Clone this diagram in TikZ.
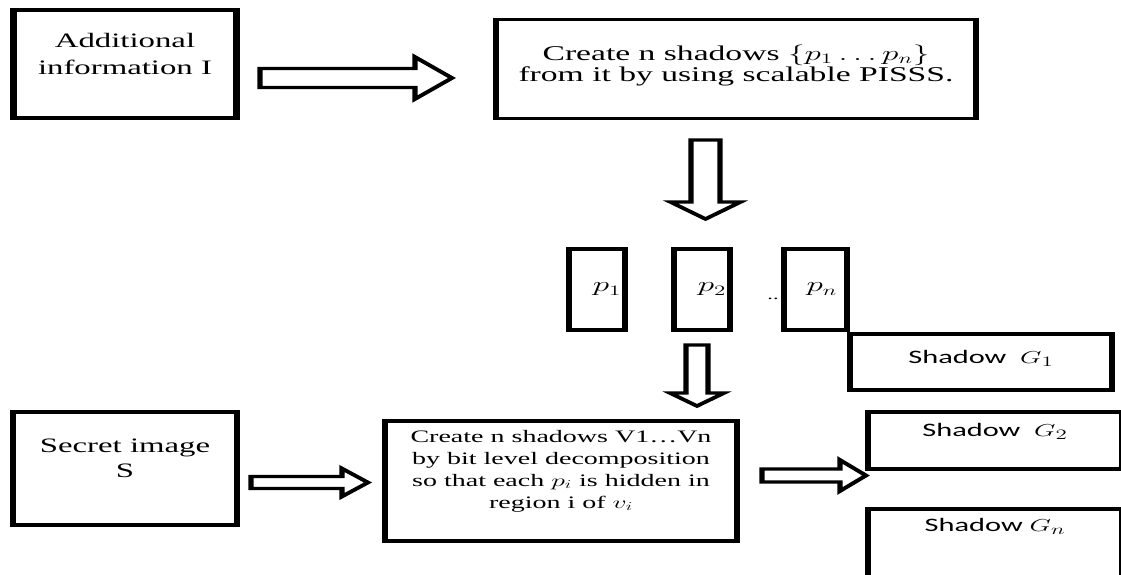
\documentclass[tikz,border=0pt]{standalone}
\usepackage{fontspec}
\setmainfont{Liberation Serif}
\newfontfamily\shadowfont{Carlito}
\usepackage{tikz}
\usetikzlibrary{calc}

% hollow block arrows: tail, tip, shaft half width, head half width, head length
\newcommand{\rightblock}[5]{%
  \draw[hollow] ($(#1)+(0,#3)$) -- ($(#2)+(-#5,#3)$) -- ($(#2)+(-#5,#4)$) -- (#2)
    -- ($(#2)+(-#5,-#4)$) -- ($(#2)+(-#5,-#3)$) -- ($(#1)+(0,-#3)$) -- cycle;}
\newcommand{\downblock}[5]{%
  \draw[hollow] ($(#1)+(#3,0)$) -- ($(#2)+(#3,-#5)$) -- ($(#2)+(#4,-#5)$) -- (#2)
    -- ($(#2)+(-#4,-#5)$) -- ($(#2)+(-#3,-#5)$) -- ($(#1)+(-#3,0)$) -- cycle;}

\begin{document}
\begin{tikzpicture}[x=1pt, y=-1pt,
      box/.style 2 args={draw, line width=3.3pt, fill=white, inner sep=0pt, minimum width=0.625*#1, minimum height=#2},
      heavy/.style={line width=4pt},
      hollow/.style={draw, line width=3.3pt, line join=miter, fill=white},
      shadowlbl/.style={font=\shadowfont\fontsize{19}{19}\selectfont, text height=13pt},
      plbl/.style={font=\fontsize{20}{20}\selectfont}
    ]
  \clip (0,0) rectangle (1121,574);
  \begin{scope}[x=0.625pt, transform canvas={xscale=1.6}]
    \node[box={223}{108}, heavy, align=center, font=\fontsize{20.5}{27}\selectfont, text height=41pt, text depth=20pt] (addinfo) at (125,64) {Additional\\information I};
    \node[box={480}{99}, align=center, font=\fontsize{21}{17}\selectfont, text height=35pt, text depth=10.5pt] (pisss) at (736,69) {Create n shadows $\{p_1 \ldots p_n\}$\\from it by using scalable PISSS.};

    \node[font=\fontsize{14}{14}\selectfont, inner sep=0pt] (dots) at (773,299) {..};
    \node[box={262}{56}, shadowlbl, text depth=11pt] (g1) at (981,362) {Shadow \ $G_1$};
    \node[box={56}{81}, plbl] (p1) at (597,289.5) {\hspace*{12.5pt}$p_1$};
    \node[box={56}{81}, plbl] (p2) at (702,289.5) {\hspace*{12.5pt}$p_2$};
    \node[box={63}{81}, plbl] (pn) at (815.5,289.5) {\hspace*{8pt}$p_n$};

    \node[box={224}{113}, heavy, align=center, font=\fontsize{20.5}{25}\selectfont, text height=39pt, text depth=21pt] (secret) at (125,468.5) {Secret image\\S};
    \node[box={352}{120}, align=center, font=\fontsize{17.5}{22}\selectfont, text height=78.5pt, text depth=24.5pt] (vshadows) at (561,481) {Create n shadows V1\ldots Vn\\by bit level decomposition\\so that each $p_i$ is hidden in\\region i of $v_i$};
    \node[box={254}{57}, shadowlbl, text depth=21pt] (g2) at (995,440.5) {Shadow \ $G_2$};
    \node[box={254}{68}, shadowlbl, text depth=36pt] (gn) at (995,543) {Shadow $G_n$};

    \coordinate (s1) at (260,78);    \coordinate (e1) at (452,78);
    \coordinate (s2) at (705.5,140); \coordinate (e2) at (705.5,219);
    \coordinate (s3) at (697,345);   \coordinate (e3) at (697,406);
    \coordinate (s4) at (251,482.5); \coordinate (e4) at (368,482.5);
    \coordinate (s5) at (762,475.5); \coordinate (e5) at (866,475.5);

    \rightblock{s1}{e1}{9.5}{21}{37}
    \downblock{s2}{e2}{14.5}{35}{17}
    \downblock{s3}{e3}{11}{27}{13}
    \rightblock{s4}{e4}{6}{14}{26}
    \rightblock{s5}{e5}{6.5}{15.5}{26}
  \end{scope}
\end{tikzpicture}
\end{document}
